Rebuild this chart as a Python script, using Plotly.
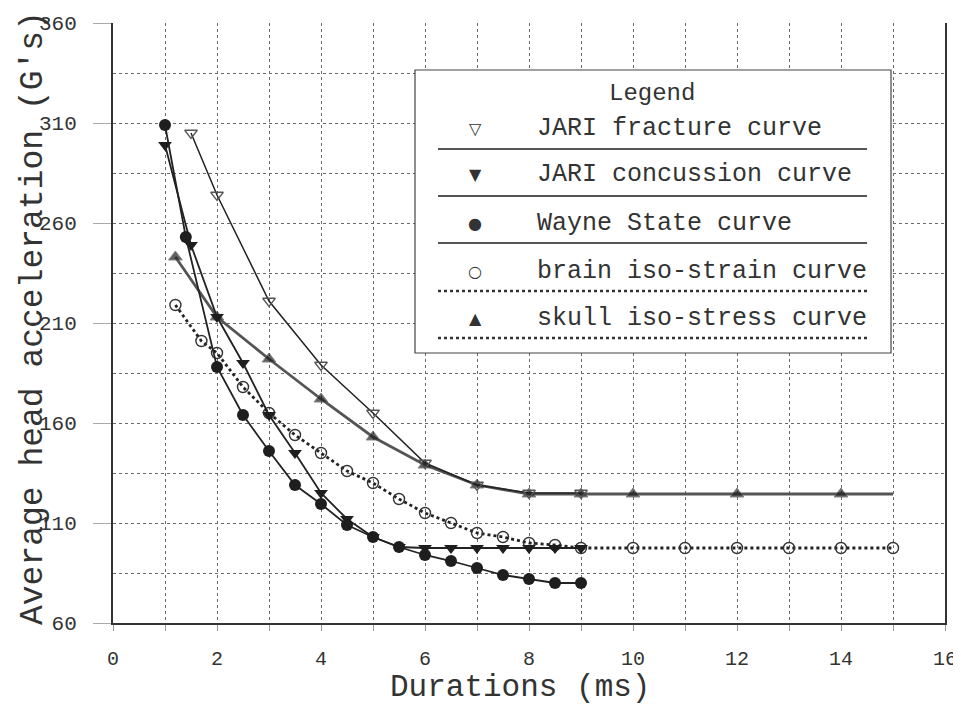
import plotly.graph_objects as go

# ---- data ----
fract_x = [1.5, 2, 3, 4, 5, 6, 7, 8, 9]
fract_y = [305, 274, 221, 189, 165, 140, 129, 125, 125]

conc_x = [1, 1.5, 2, 2.5, 3, 3.5, 4, 4.5, 5, 5.5, 6, 6.5, 7, 7.5, 8, 8.5, 9]
conc_y = [299, 249, 213, 190, 164, 145, 125, 112, 103, 98, 97.5, 97.5, 97.5, 97.5, 97.5, 97.5, 97.5]

wayne_x = [1, 1.4, 2, 2.5, 3, 3.5, 4, 4.5, 5, 5.5, 6, 6.5, 7, 7.5, 8, 8.5, 9]
wayne_y = [309, 253, 188, 164, 146, 129, 119.5, 109, 103, 98, 94, 91, 87.5, 84, 82, 80, 80]

brain_x = [1.2, 1.7, 2, 2.5, 3, 3.5, 4, 4.5, 5, 5.5, 6, 6.5, 7, 7.5, 8, 8.5, 9, 10, 11, 12, 13, 14, 15]
brain_y = [219, 201, 195, 178, 165, 154, 145, 136, 130, 122, 115, 110, 105, 103, 100, 99, 97.5,
           97.5, 97.5, 97.5, 97.5, 97.5, 97.5]

skull_x = [1.2, 2, 3, 4, 5, 6, 7, 8, 9, 10, 12, 14, 15]
skull_y = [243, 213, 192, 172, 153, 139, 129, 124.5, 124.5, 124.5, 124.5, 124.5, 124.5]
skull_marker_size = [12] * 12 + [0]

legend_labels = ["JARI fracture curve", "JARI concussion curve", "Wayne State curve",
                 "brain iso-strain curve", "skull iso-stress curve"]
legend_glyphs = ["\u25BD", "\u25BC", "\u25CF", "\u25CB", "\u25B2"]
legend_dash = ["solid", "solid", "solid", "dot", "dot"]

x_ticks = [0, 2, 4, 6, 8, 10, 12, 14, 16]
y_ticks = [60, 110, 160, 210, 260, 310, 360]

FONT = "Liberation Mono, DejaVu Sans Mono, monospace"
INK = "#333333"

fig = go.Figure()

fig.add_trace(go.Scatter(
    x=skull_x, y=skull_y, mode="lines+markers",
    line=dict(color="#555555", width=2.8),
    marker=dict(symbol="triangle-up", size=skull_marker_size, color="#1e1e1e"),
    name=legend_labels[4]))
fig.add_trace(go.Scatter(
    x=brain_x, y=brain_y, mode="lines+markers",
    line=dict(color="#222222", width=2.8, dash="dot"),
    marker=dict(symbol="circle-open", size=11, color="#333333", line=dict(width=1.4)),
    name=legend_labels[3]))
fig.add_trace(go.Scatter(
    x=fract_x, y=fract_y, mode="lines+markers",
    line=dict(color="#222222", width=1.5),
    marker=dict(symbol="triangle-down-open", size=11, color="#555555", line=dict(width=1.3)),
    name=legend_labels[0]))
fig.add_trace(go.Scatter(
    x=conc_x, y=conc_y, mode="lines+markers",
    line=dict(color="#222222", width=1.8),
    marker=dict(symbol="triangle-down", size=12, color="#1e1e1e"),
    name=legend_labels[1]))
fig.add_trace(go.Scatter(
    x=wayne_x, y=wayne_y, mode="lines+markers",
    line=dict(color="#222222", width=1.8),
    marker=dict(symbol="circle", size=12, color="#1e1e1e"),
    name=legend_labels[2]))

OFF = 8  # page body margin
W, H = 961 - OFF, 713 - 2 * OFF
# plot area in page pixels
PL, PR, PT, PB = 113, 945, 23, 623
L = PL - OFF
T = PT - OFF
R = W - (PR - OFF)
B = H - (PB - OFF)
pw, ph = PR - PL, PB - PT


def px(xp):
    return (xp - PL) / pw


def py(yp):
    return (PB - yp) / ph


shapes = []
annotations = []

# legend box
shapes.append(dict(type="rect", xref="paper", yref="paper",
                   x0=px(415), x1=px(891), y0=py(353), y1=py(70),
                   line=dict(color="#444444", width=1.2), fillcolor="white", layer="above"))
annotations.append(dict(xref="paper", yref="paper", x=px(652), y=py(93), text="Legend",
                        xanchor="center", yanchor="middle",
                        showarrow=False, font=dict(family=FONT, size=24, color=INK)))
entry_y = [128, 175, 223, 271, 318]
sep_y = [149, 196, 243, 291, 338]
for lbl, gl, dash, ey, sy in zip(legend_labels, legend_glyphs, legend_dash, entry_y, sep_y):
    annotations.append(dict(xref="paper", yref="paper", x=px(475), y=py(ey), text=gl,
                            xanchor="center", yanchor="middle",
                            showarrow=False, font=dict(family="DejaVu Sans", size=16, color=INK)))
    annotations.append(dict(xref="paper", yref="paper", x=px(535), y=py(ey), text=lbl,
                            xanchor="left", yanchor="middle", showarrow=False,
                            font=dict(family=FONT, size=25, color=INK)))
    shapes.append(dict(type="line", xref="paper", yref="paper",
                       x0=px(438), x1=px(867), y0=py(sy), y1=py(sy), layer="above",
                       line=dict(color="#333333" if dash == "dot" else "#555555",
                                 width=2.6 if dash == "dot" else 2.2, dash=dash)))

# axis titles
annotations.append(dict(xref="paper", yref="paper", x=px(33), y=py(318),
                        xanchor="center", yanchor="middle",
                        text="Average head acceleration (G's)", textangle=-90,
                        showarrow=False, font=dict(family=FONT, size=33, color=INK)))
annotations.append(dict(xref="paper", yref="paper", x=px(520), y=py(687),
                        xanchor="center", yanchor="middle",
                        text="Durations (ms)", showarrow=False,
                        font=dict(family=FONT, size=31, color=INK)))

fig.update_layout(
    width=W, height=H,
    margin=dict(l=L, r=R, t=T, b=B),
    paper_bgcolor="white", plot_bgcolor="white",
    showlegend=False,
    shapes=shapes, annotations=annotations,
    font=dict(family=FONT, color=INK),
)
fig.update_xaxes(
    range=[0, 16], tickmode="array", tickvals=x_ticks, ticktext=[str(v) for v in x_ticks],
    showgrid=True, gridcolor="#6a6a6a", griddash="dot", gridwidth=1,
    minor=dict(dtick=1, tick0=0, showgrid=True, gridcolor="#6a6a6a", griddash="dot",
               ticks="outside", ticklen=6, tickcolor="#999999"),
    showline=True, linecolor="#333333", linewidth=2,
    ticks="outside", ticklen=6, tickcolor="#999999", ticklabelstandoff=10,
    ticklabeloverflow="allow",
    tickfont=dict(family=FONT, size=20, color=INK), zeroline=False, automargin=False,
)
fig.update_yaxes(
    range=[60, 360], tickmode="array", tickvals=y_ticks, ticktext=[str(v) for v in y_ticks],
    showgrid=True, gridcolor="#6a6a6a", griddash="dot", gridwidth=1,
    minor=dict(dtick=25, tick0=60, showgrid=True, gridcolor="#6a6a6a", griddash="dot"),
    showline=True, linecolor="#333333", linewidth=2, mirror=True,
    ticks="outside", ticklen=18, tickcolor="#aaaaaa", ticklabelstandoff=12,
    ticklabeloverflow="allow",
    tickfont=dict(family=FONT, size=21, color=INK), zeroline=False, automargin=False,
)

fig.write_html("out.html")
